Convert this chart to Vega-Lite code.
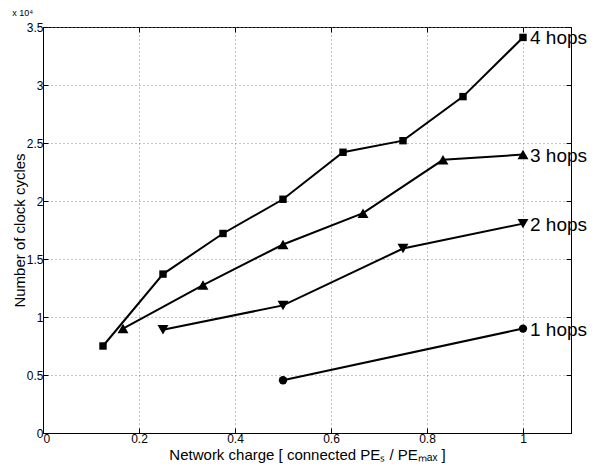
{
  "$schema": "https://vega.github.io/schema/vega-lite/v6.json",
  "width": 528,
  "height": 406,
  "autosize": "none",
  "padding": {"left": 43, "top": 27, "right": 26, "bottom": 39},
  "background": "white",
  "config": {
    "font": "Liberation Sans",
    "view": {"stroke": "black", "strokeWidth": 1},
    "axis": {"labelFont": "Liberation Sans", "titleFont": "Liberation Sans", "labelColor": "black", "titleColor": "black", "titleFontWeight": "normal"},
    "title": {"font": "Liberation Sans"},
    "text": {"font": "Liberation Sans"}
  },
  "title": {"text": "x 10⁴", "anchor": "start", "fontSize": 9, "fontWeight": "normal", "offset": 3, "color": "black"},
  "data": {
    "values": [
      {"series": "4 hops", "charge": 0.125, "cycles": 7500},
      {"series": "4 hops", "charge": 0.25, "cycles": 13700},
      {"series": "4 hops", "charge": 0.375, "cycles": 17200},
      {"series": "4 hops", "charge": 0.5, "cycles": 20150},
      {"series": "4 hops", "charge": 0.625, "cycles": 24200},
      {"series": "4 hops", "charge": 0.75, "cycles": 25200},
      {"series": "4 hops", "charge": 0.875, "cycles": 29000},
      {"series": "4 hops", "charge": 1, "cycles": 34100},
      {"series": "3 hops", "charge": 0.1667, "cycles": 9000},
      {"series": "3 hops", "charge": 0.3333, "cycles": 12750},
      {"series": "3 hops", "charge": 0.5, "cycles": 16250},
      {"series": "3 hops", "charge": 0.6667, "cycles": 18950},
      {"series": "3 hops", "charge": 0.8333, "cycles": 23550},
      {"series": "3 hops", "charge": 1, "cycles": 24000},
      {"series": "2 hops", "charge": 0.25, "cycles": 8900},
      {"series": "2 hops", "charge": 0.5, "cycles": 11000},
      {"series": "2 hops", "charge": 0.75, "cycles": 15900},
      {"series": "2 hops", "charge": 1, "cycles": 18050},
      {"series": "1 hops", "charge": 0.5, "cycles": 4550},
      {"series": "1 hops", "charge": 1, "cycles": 9000}
    ]
  },
  "encoding": {
    "x": {"field": "charge", "type": "quantitative", "scale": {"domain": [0, 1.1], "nice": false, "zero": false}},
    "y": {"field": "cycles", "type": "quantitative", "scale": {"domain": [0, 35000], "nice": false}}
  },
  "layer": [
    {
      "mark": {"type": "line", "color": "black", "strokeWidth": 2},
      "encoding": {
        "detail": {"field": "series"},
        "x": {"field": "charge", "type": "quantitative", "axis": {
          "values": [0, 0.2, 0.4, 0.6, 0.8, 1], "labelExpr": "datum.value == 0 ? '0' : format(datum.value, '.1f') == '1.0' ? '1' : format(datum.value, '.1f')",
          "grid": true, "gridColor": "#888888", "gridDash": [1, 3], "gridWidth": 1,
          "domain": true, "domainColor": "black", "tickColor": "black", "tickSize": -5, "labelPadding": 5, "labelFontSize": 12,
          "title": "Network charge [ connected PEₛ / PEₘₐₓ ]", "titleFontSize": 15, "titlePadding": 3
        }},
        "y": {"field": "cycles", "type": "quantitative", "axis": {
          "values": [0, 5000, 10000, 15000, 20000, 25000, 30000, 35000], "labelExpr": "format(datum.value / 10000, '~g')",
          "grid": true, "gridColor": "#888888", "gridDash": [1, 3], "gridWidth": 1,
          "domain": true, "domainColor": "black", "tickColor": "black", "tickSize": -5, "labelPadding": 5, "labelFontSize": 12,
          "title": "Number of clock cycles", "titleFontSize": 15, "titlePadding": -1
        }}
      }
    },
    {
      "transform": [{"filter": "datum.series == '4 hops'"}],
      "mark": {"type": "point", "shape": "square", "size": 55, "filled": true, "color": "black", "opacity": 1},
      "encoding": {
        "x": {"field": "charge", "type": "quantitative", "axis": {"orient": "top", "values": [0, 0.2, 0.4, 0.6, 0.8, 1], "labels": false, "grid": false, "domain": false, "tickColor": "black", "tickSize": -5, "title": null}},
        "y": {"field": "cycles", "type": "quantitative", "axis": {"orient": "right", "values": [0, 5000, 10000, 15000, 20000, 25000, 30000, 35000], "labels": false, "grid": false, "domain": false, "tickColor": "black", "tickSize": -5, "title": null}}
      }
    },
    {
      "transform": [{"filter": "datum.series == '3 hops'"}],
      "mark": {"type": "point", "shape": "triangle-up", "size": 120, "filled": true, "color": "black", "opacity": 1},
      "encoding": {
        "x": {"field": "charge", "type": "quantitative", "axis": null},
        "y": {"field": "cycles", "type": "quantitative", "axis": null}
      }
    },
    {
      "transform": [{"filter": "datum.series == '2 hops'"}],
      "mark": {"type": "point", "shape": "triangle-down", "size": 120, "filled": true, "color": "black", "opacity": 1},
      "encoding": {
        "x": {"field": "charge", "type": "quantitative", "axis": null},
        "y": {"field": "cycles", "type": "quantitative", "axis": null}
      }
    },
    {
      "transform": [{"filter": "datum.series == '1 hops'"}],
      "mark": {"type": "point", "shape": "circle", "size": 70, "filled": true, "color": "black", "opacity": 1},
      "encoding": {
        "x": {"field": "charge", "type": "quantitative", "axis": null},
        "y": {"field": "cycles", "type": "quantitative", "axis": null}
      }
    },
    {
      "transform": [{"filter": "datum.charge == 1"}],
      "mark": {"type": "text", "align": "left", "baseline": "middle", "dx": 7, "dy": 1, "fontSize": 19, "color": "black"},
      "encoding": {
        "text": {"field": "series"},
        "x": {"field": "charge", "type": "quantitative", "axis": null},
        "y": {"field": "cycles", "type": "quantitative", "axis": null}
      }
    }
  ],
  "resolve": {"axis": {"x": "independent", "y": "independent"}}
}
